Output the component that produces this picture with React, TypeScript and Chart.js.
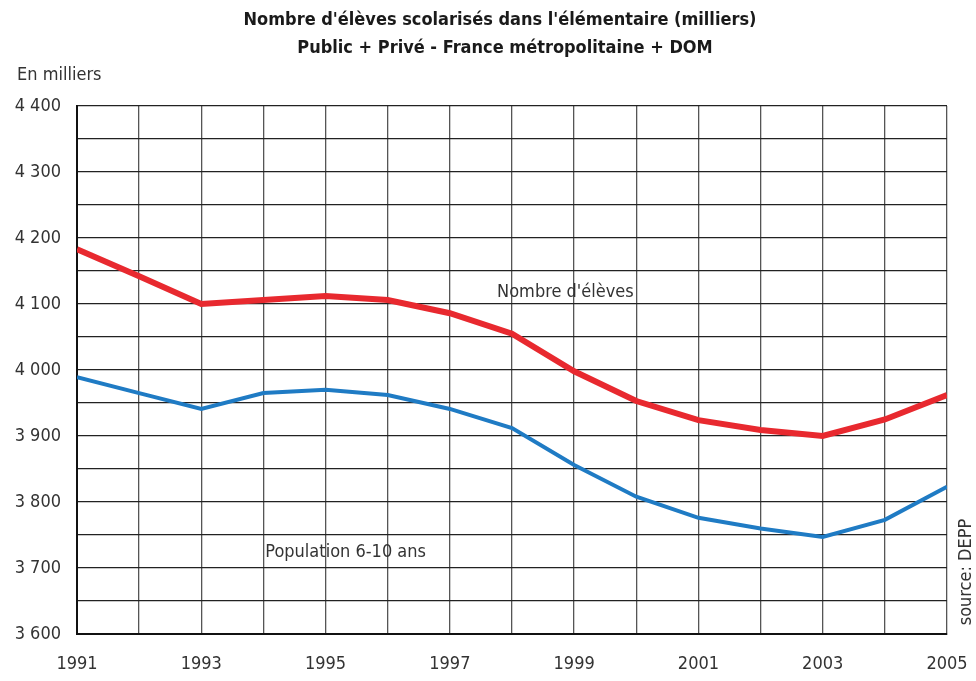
import React, { useEffect, useRef } from "react";
import { Chart, registerables } from "chart.js";

Chart.register(...registerables);

const years = [1991, 1992, 1993, 1994, 1995, 1996, 1997, 1998, 1999, 2000, 2001, 2002, 2003, 2004, 2005];
const eleves = [4183, 4142, 4100, 4106, 4112, 4106, 4086, 4055, 3998, 3953, 3924, 3909, 3900, 3925, 3962];
const population = [3989, 3965, 3941, 3965, 3970, 3962, 3941, 3912, 3856, 3808, 3776, 3760, 3747, 3773, 3823];
const titleLines = ["Nombre d'élèves scolarisés dans l'élémentaire (milliers)", "Public + Privé - France métropolitaine + DOM"];
const yUnit = "En milliers";
const source = "source: DEPP";
const labelEleves = { text: "Nombre d'élèves", x: 1997.76, y: 4117 };
const labelPop = { text: "Population 6-10 ans", x: 1994.03, y: 3723 };

const FONT = "'Liberation Sans Narrow', 'DejaVu Sans Condensed', 'Roboto', sans-serif";

const fmt = (v: number) => {
  const s = String(Math.round(v));
  return s.length > 3 ? s.slice(0, s.length - 3) + " " + s.slice(-3) : s;
};

const textPlugin = {
  id: "texts",
  afterDraw(chart: any) {
    const ctx = chart.ctx;
    const xs = chart.scales.x;
    const ys = chart.scales.y;
    ctx.save();
    ctx.fillStyle = "#1a1a1a";
    ctx.textAlign = "center";
    ctx.textBaseline = "middle";
    ctx.font = `bold 18px ${FONT}`;
    ctx.fillText(titleLines[0], 500, 20);
    ctx.fillText(titleLines[1], 505, 48);
    ctx.fillStyle = "#333";
    ctx.font = `18px ${FONT}`;
    ctx.textAlign = "left";
    ctx.fillText(yUnit, 17, 75);
    ctx.fillText(labelEleves.text, xs.getPixelForValue(labelEleves.x), ys.getPixelForValue(labelEleves.y));
    ctx.fillText(labelPop.text, xs.getPixelForValue(labelPop.x), ys.getPixelForValue(labelPop.y));
    ctx.translate(966, 572);
    ctx.rotate(-Math.PI / 2);
    ctx.textAlign = "center";
    ctx.fillText(source, 0, 0);
    ctx.restore();
  },
};

export default function App() {
  const ref = useRef<HTMLCanvasElement>(null);
  useEffect(() => {
    if (!ref.current) return;
    const chart = new Chart(ref.current, {
      type: "line",
      data: {
        datasets: [
          {
            label: "Nombre d'élèves",
            data: years.map((y, i) => ({ x: y, y: eleves[i] })),
            borderColor: "#e8292f",
            borderWidth: 6,
            pointRadius: 0,
            tension: 0,
          },
          {
            label: "Population 6-10 ans",
            data: years.map((y, i) => ({ x: y, y: population[i] })),
            borderColor: "#1f7bc4",
            borderWidth: 4,
            pointRadius: 0,
            tension: 0,
          },
        ],
      },
      options: {
        animation: false,
        responsive: false,
        maintainAspectRatio: false,
        layout: { padding: { left: 0, top: 106, right: 29, bottom: 0 } },
        plugins: { legend: { display: false }, title: { display: false }, tooltip: { enabled: false } },
        scales: {
          x: {
            type: "linear",
            min: 1991,
            max: 2005,
            afterFit: (s: any) => { s.height = 47; s.paddingLeft = 0; s.paddingRight = 0; },
            ticks: {
              stepSize: 1,
              autoSkip: false,
              maxRotation: 0,
              padding: 20,
              color: "#333",
              font: { family: FONT, size: 18 },
              callback: (v: any) => (Number(v) % 2 === 1 ? String(v) : ""),
            },
            grid: { color: "#555", lineWidth: 1.3, drawTicks: false },
            border: { color: "#111", width: 2 },
          },
          y: {
            min: 3600,
            max: 4400,
            afterFit: (s: any) => { s.width = 77; s.paddingTop = 0; s.paddingBottom = 0; },
            ticks: {
              stepSize: 50,
              autoSkip: false,
              padding: 16,
              color: "#333",
              font: { family: FONT, size: 18 },
              callback: (v: any) => (Number(v) % 100 === 0 ? fmt(Number(v)) : ""),
            },
            grid: { color: "#222", lineWidth: 1.3, drawTicks: false },
            border: { color: "#111", width: 2 },
          },
        },
      },
      plugins: [textPlugin],
    } as any);
    return () => chart.destroy();
  }, []);
  return (
    <div style={{ position: "fixed", left: 0, top: 0, width: 976, height: 681, background: "#fff" }}>
      <canvas ref={ref} width={976} height={681} style={{ width: 976, height: 681, display: "block" }} />
    </div>
  );
}
